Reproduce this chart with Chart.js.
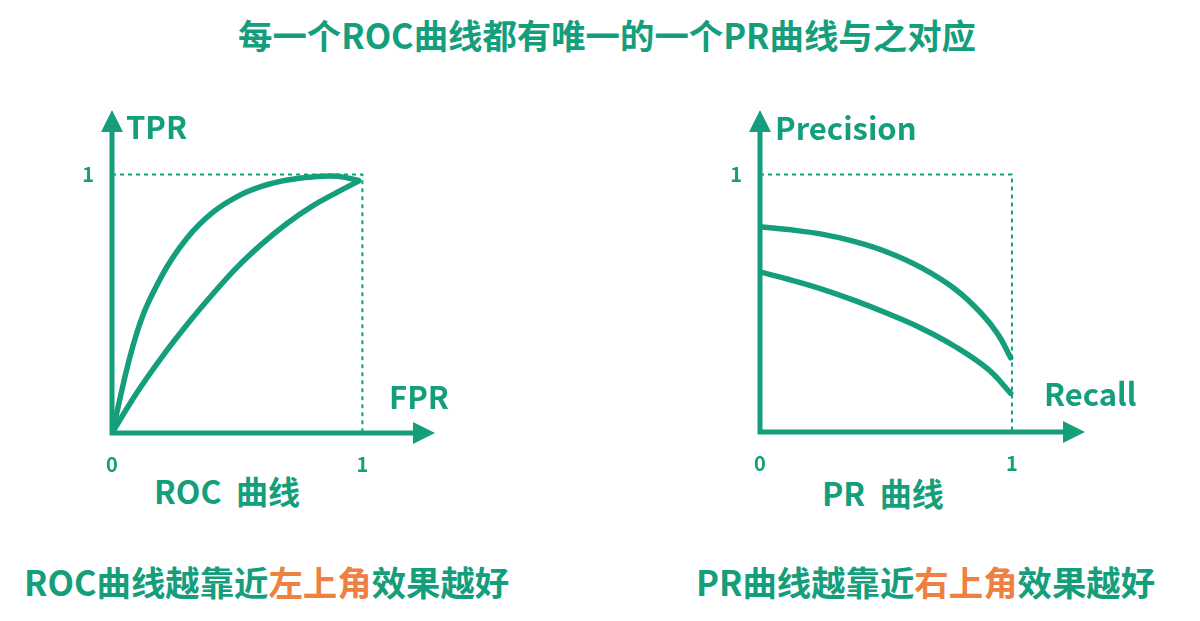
<!DOCTYPE html>
<html>
<head>
<meta charset="utf-8">
<script src="https://cdn.jsdelivr.net/npm/chart.js@4/dist/chart.umd.min.js"></script>
<style>
  body { margin: 0; width: 1200px; height: 621px; background: #fff; position: relative; overflow: hidden;
         font-family: "Noto Sans CJK SC", "Noto Sans", sans-serif; }
  .txt { position: absolute; color: #149e7c; font-weight: 700; white-space: nowrap; }
  .hot { color: #ee8041; }
  canvas { position: absolute; }
</style>
</head>
<body>
<div class="txt" style="left:238px;top:9px;font-size:34.4px;">每一个ROC曲线都有唯一的一个PR曲线与之对应</div>
<div class="txt" style="left:154px;top:467px;font-size:32px;">ROC&nbsp; 曲线</div>
<div class="txt" style="left:822px;top:469px;font-size:32px;">PR&nbsp; 曲线</div>
<div class="txt" style="left:24px;top:556px;font-size:34.4px;">ROC曲线越靠近<span class="hot">左上角</span>效果越好</div>
<div class="txt" style="left:696px;top:556px;font-size:34.4px;">PR曲线越靠近<span class="hot">右上角</span>效果越好</div>

<div style="position:absolute;left:40px;top:80px;width:440px;height:420px;"><canvas id="roc"></canvas></div>
<div style="position:absolute;left:700px;top:80px;width:470px;height:420px;"><canvas id="pr"></canvas></div>

<script>
// ---------- DATOS ----------
const rocX = [0, 0.1, 0.2, 0.3, 0.4, 0.5, 0.6, 0.7, 0.8, 0.9, 0.985];
const rocUpperY = [0, 0.39, 0.61, 0.755, 0.852, 0.915, 0.955, 0.979, 0.991, 0.994, 0.977];
const rocLowerY = [0, 0.157, 0.295, 0.42, 0.535, 0.642, 0.733, 0.812, 0.878, 0.932, 0.975];

const prUpperX = [0, 0.112, 0.245, 0.377, 0.509, 0.642, 0.774, 0.88, 0.946, 0.995];
const prUpperY = [0.797, 0.786, 0.768, 0.739, 0.697, 0.637, 0.555, 0.459, 0.377, 0.288];
const prLowerX = [0, 0.112, 0.245, 0.377, 0.509, 0.642, 0.774, 0.906, 0.995];
const prLowerY = [0.621, 0.593, 0.555, 0.51, 0.459, 0.402, 0.332, 0.243, 0.15];

const guideX = [0, 1, 1];
const guideY = [1, 1, 0];

const xTicks = [0, 1];
const yTicks = [1];

const GREEN = '#149e7c';

function pts(xs, ys) {
    return xs.map((x, i) => ({ x: x, y: ys[i] }));
}

// ---------- PLUGIN: ejes con flecha y nombres ----------
function arrowAxes(xName, xOff, yName, yOff) {
    return {
        id: 'arrowAxes',
        afterDatasetsDraw(chart) {
            const c = chart.ctx;
            const xs = chart.scales.x, ys = chart.scales.y;
            const ox = xs.getPixelForValue(0), oy = ys.getPixelForValue(0);
            const tx = xs.getPixelForValue(xs.max), ty = ys.getPixelForValue(ys.max);
            c.save();
            c.strokeStyle = GREEN;
            c.fillStyle = GREEN;
            c.lineWidth = 5;
            c.beginPath();
            c.moveTo(ox, oy + 2);
            c.lineTo(ox, ty + 18);
            c.moveTo(ox - 2, oy);
            c.lineTo(tx - 18, oy);
            c.stroke();
            // flecha vertical
            c.beginPath();
            c.moveTo(ox, ty);
            c.lineTo(ox - 11, ty + 22);
            c.lineTo(ox + 11, ty + 22);
            c.closePath();
            c.fill();
            // flecha horizontal
            c.beginPath();
            c.moveTo(tx, oy);
            c.lineTo(tx - 22, oy - 11);
            c.lineTo(tx - 22, oy + 11);
            c.closePath();
            c.fill();
            // nombres de ejes
            c.font = '700 31px "Noto Sans CJK SC", "Noto Sans", sans-serif';
            c.textBaseline = 'middle';
            c.textAlign = 'left';
            c.fillText(yName, ox + yOff[0], ty + yOff[1]);
            c.fillText(xName, tx + xOff[0], oy + xOff[1]);
            c.restore();
        }
    };
}

function makeChart(id, upper, lower, padding, xName, xOff, yName, yOff) {
    const lineStyle = {
        showLine: true,
        borderColor: GREEN,
        borderWidth: 5.5,
        pointRadius: 0,
        tension: 0.4,
        borderCapStyle: 'round',
        fill: false
    };
    return new Chart(document.getElementById(id), {
        type: 'scatter',
        data: {
            datasets: [
                { label: 'guide', data: pts(guideX, guideY), showLine: true, borderColor: GREEN,
                  borderWidth: 2, borderDash: [4, 4], pointRadius: 0, tension: 0 },
                Object.assign({ label: 'upper', data: upper }, lineStyle),
                Object.assign({ label: 'lower', data: lower }, lineStyle)
            ]
        },
        options: {
            responsive: true,
            maintainAspectRatio: false,
            animation: false,
            layout: { padding: padding },
            plugins: { legend: { display: false }, tooltip: { enabled: false } },
            scales: {
                x: {
                    type: 'linear', min: 0, max: 1.29,
                    grid: { display: false, drawTicks: false },
                    border: { display: false },
                    afterBuildTicks: s => { s.ticks = xTicks.map(v => ({ value: v })); },
                    afterFit: s => { s.height = 40; },
                    ticks: { color: GREEN, padding: 19, maxRotation: 0,
                             font: { size: 20, weight: 'bold', family: '"Noto Sans CJK SC", sans-serif' },
                             callback: v => String(v) }
                },
                y: {
                    type: 'linear', min: 0, max: 1.25,
                    grid: { display: false, drawTicks: false },
                    border: { display: false },
                    afterBuildTicks: s => { s.ticks = yTicks.map(v => ({ value: v })); },
                    afterFit: s => { s.width = 52; },
                    ticks: { color: GREEN, padding: 18,
                             font: { size: 20, weight: 'bold', family: '"Noto Sans CJK SC", sans-serif' },
                             callback: v => String(v) }
                }
            }
        },
        plugins: [arrowAxes(xName, xOff, yName, yOff)]
    });
}

makeChart('roc', pts(rocX, rocUpperY), pts(rocX, rocLowerY),
    { left: 20, right: 45, top: 30, bottom: 27 }, 'FPR', [-46, -36], 'TPR', [14, 17]);
makeChart('pr', pts(prUpperX, prUpperY), pts(prLowerX, prLowerY),
    { left: 8, right: 85, top: 25, bottom: 28 }, 'Recall', [-41, -38], 'Precision', [15, 18]);
</script>
</body>
</html>
